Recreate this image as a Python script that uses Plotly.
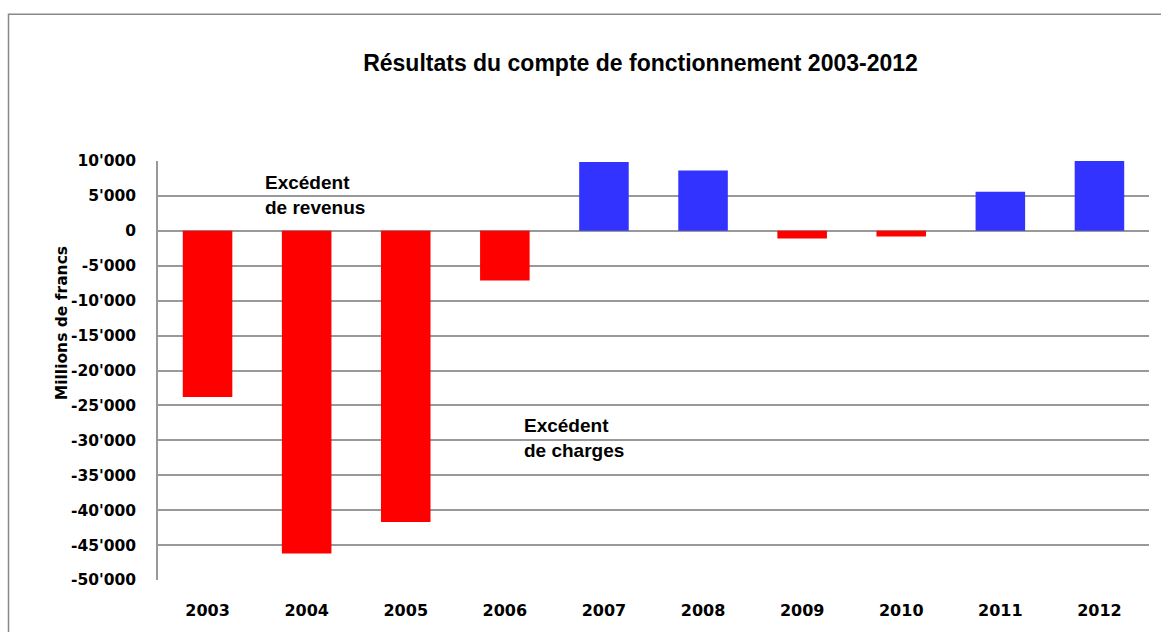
import plotly.graph_objects as go

years = ["2003", "2004", "2005", "2006", "2007", "2008", "2009", "2010", "2011", "2012"]
results = [-23800, -46200, -41700, -7100, 9850, 8650, -1100, -800, 5600, 10100]
tick_vals = [10000, 5000, 0, -5000, -10000, -15000, -20000, -25000, -30000,
             -35000, -40000, -45000, -50000]
tick_text = ["10'000", "5'000", "0", "-5'000", "-10'000", "-15'000", "-20'000",
             "-25'000", "-30'000", "-35'000", "-40'000", "-45'000", "-50'000"]

colors = ["#3333FF" if v > 0 else "#FF0000" for v in results]

FONT = "Liberation Sans"
TICKFONT = "DejaVu Sans"

# plot area in pixels: x 158..1149, y 161..582
L, R, T, B = 158, 1149, 161, 582
W, H = 1161, 632
PW, PH = R - L, B - T


def px(x):
    return (x - L) / PW


def py(y):
    return (B - y) / PH


fig = go.Figure()
fig.add_trace(go.Bar(x=years, y=results, marker=dict(color=colors, line=dict(width=0)),
                     hoverinfo="x+y"))

fig.update_layout(
    width=W, height=H,
    margin=dict(l=L, r=W - R, t=T, b=H - B, pad=0),
    paper_bgcolor="white", plot_bgcolor="white",
    bargap=0.5,
    showlegend=False,
    font=dict(family=FONT, color="black"),
    title=dict(text="<b>Résultats du compte de fonctionnement 2003-2012</b>",
               x=640.5 / W, xanchor="center", y=1 - 63 / H, yanchor="middle",
               font=dict(size=23, family=FONT, color="black")),
)
fig.update_xaxes(showline=False, ticks="", showgrid=False,
                 tickfont=dict(size=16, family=TICKFONT, color="black"),
                 tickprefix="<b>", ticksuffix="</b>", ticklabelstandoff=19)
fig.update_yaxes(range=[-50000, 10000], tickvals=tick_vals,
                 ticktext=["<b>" + t + "</b>" for t in tick_text],
                 tickfont=dict(size=15.5, family=TICKFONT, color="black"),
                 showgrid=True, gridcolor="#999999", gridwidth=1.5,
                 zeroline=True, zerolinecolor="#999999", zerolinewidth=1.5,
                 showline=True, linecolor="#999999", linewidth=1.5,
                 ticks="", ticklabelstandoff=17)

# outer chart frame (only left/top edges visible)
fig.add_shape(type="rect", xref="paper", yref="paper",
              x0=px(8.5), x1=1.05, y0=-0.3, y1=py(13.5),
              line=dict(color="#888888", width=1.5), fillcolor="rgba(0,0,0,0)", layer="below")

fig.add_annotation(text="<b>Millions de francs</b>", xref="paper", yref="paper",
                   x=px(62), y=py(324), textangle=-90, showarrow=False,
                   xanchor="center", yanchor="middle",
                   font=dict(size=15.5, family=TICKFONT, color="black"))
fig.add_annotation(text="<b>Excédent<br>de revenus</b>", xref="paper", yref="paper",
                   x=px(263), y=py(195), xanchor="left", yanchor="middle",
                   align="left", showarrow=False,
                   font=dict(size=19, family=FONT, color="black"))
fig.add_annotation(text="<b>Excédent<br>de charges</b>", xref="paper", yref="paper",
                   x=px(522), y=py(439), xanchor="left", yanchor="middle",
                   align="left", showarrow=False,
                   font=dict(size=19, family=FONT, color="black"))

fig.write_html("out.html", config={"displayModeBar": False},
               post_script="document.body.style.margin='0px';")
